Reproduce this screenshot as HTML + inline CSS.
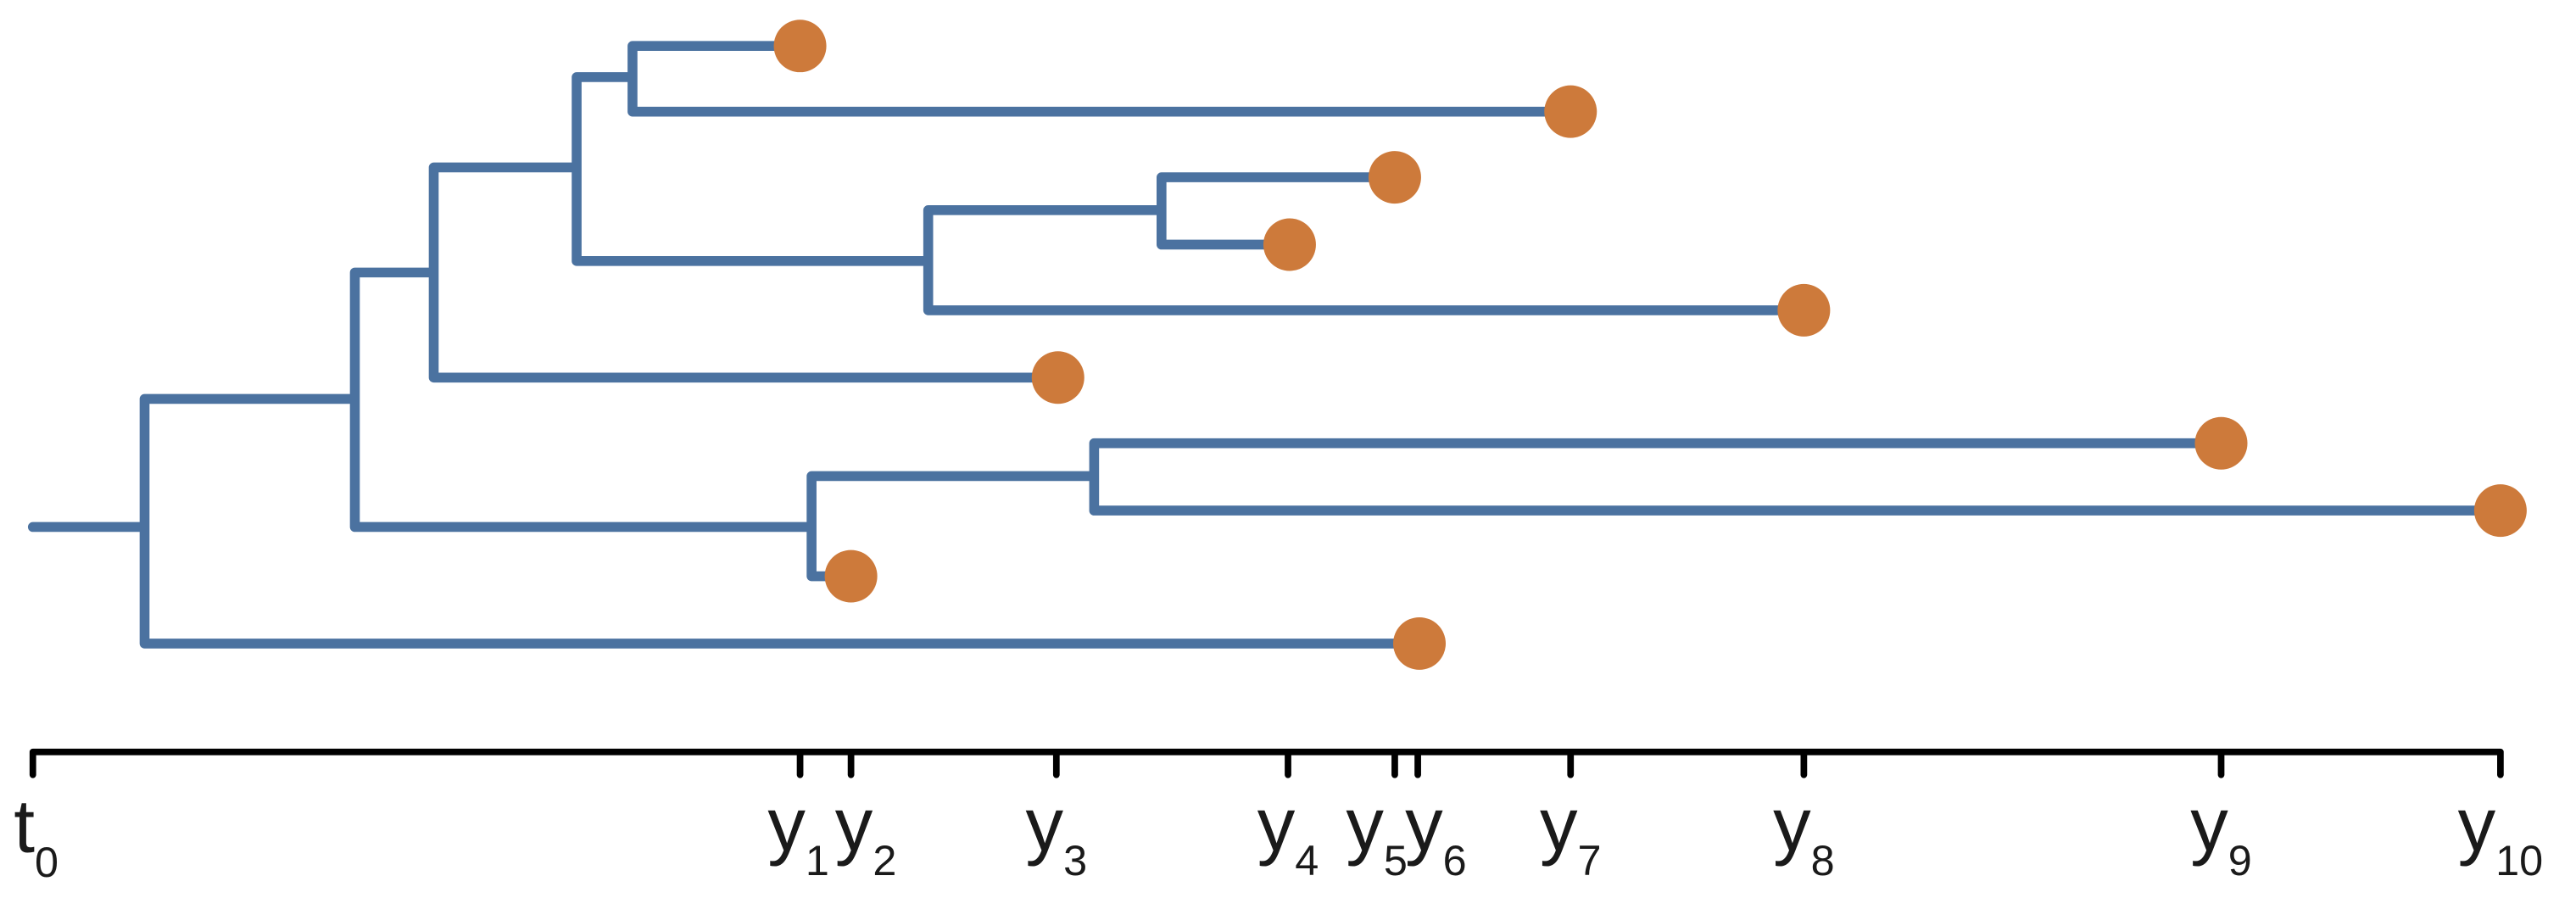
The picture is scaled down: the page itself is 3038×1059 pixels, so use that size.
<!DOCTYPE html>
<html><head><meta charset="utf-8"><style>html,body{margin:0;padding:0;background:#fff}svg{display:block}</style></head>
<body>
<svg width="3038" height="1059" viewBox="0 0 1568 547" preserveAspectRatio="none" xmlns="http://www.w3.org/2000/svg">
<g stroke="#4B72A0" stroke-width="6" stroke-linecap="round" fill="none">
<path d="M20 321H88 M88 243V392 M88 243H216 M88 392H864
M216 166V321 M216 166H264 M216 321H494
M264 102V230 M264 102H351 M264 230H644
M351 47V159 M351 47H385 M351 159H565
M385 28V68 M385 28H487 M385 68H956
M565 128V189 M565 128H707 M565 189H1098
M707 108V149 M707 108H849 M707 149H785
M494 290V351 M494 290H666 M494 351H518
M666 270V311 M666 270H1352 M666 311H1522"/>
</g>
<g fill="#CD7A3B">
<circle cx="487" cy="28" r="16"/><circle cx="956" cy="68" r="16"/><circle cx="849" cy="108" r="16"/>
<circle cx="785" cy="149" r="16"/><circle cx="1098" cy="189" r="16"/><circle cx="644" cy="230" r="16"/>
<circle cx="1352" cy="270" r="16"/><circle cx="1522" cy="311" r="16"/><circle cx="518" cy="351" r="16"/>
<circle cx="864" cy="392" r="16"/>
</g>
<g stroke="#000" stroke-width="4" stroke-linecap="round" fill="none">
<path d="M20 458H1522 M20 458V472 M487 458V472 M518 458V472 M643 458V472 M784 458V472 M849 458V472 M863 458V472 M956 458V472 M1098 458V472 M1352 458V472 M1522 458V472"/>
</g>
<g font-family="Liberation Sans, sans-serif" font-size="46" fill="#1a1a1a" text-anchor="middle">
<text x="22" y="519">t<tspan font-size="26" dy="15">0</tspan></text>
<text x="486" y="518">y<tspan font-size="26" dy="15">1</tspan></text>
<text x="527" y="518">y<tspan font-size="26" dy="15">2</tspan></text>
<text x="643" y="518">y<tspan font-size="26" dy="15">3</tspan></text>
<text x="784" y="518">y<tspan font-size="26" dy="15">4</tspan></text>
<text x="838" y="518">y<tspan font-size="26" dy="15">5</tspan></text>
<text x="874" y="518">y<tspan font-size="26" dy="15">6</tspan></text>
<text x="956" y="518">y<tspan font-size="26" dy="15">7</tspan></text>
<text x="1098" y="518">y<tspan font-size="26" dy="15">8</tspan></text>
<text x="1352" y="518">y<tspan font-size="26" dy="15">9</tspan></text>
<text x="1522" y="518">y<tspan font-size="26" dy="15">10</tspan></text>
</g>
</svg>
</body></html>
